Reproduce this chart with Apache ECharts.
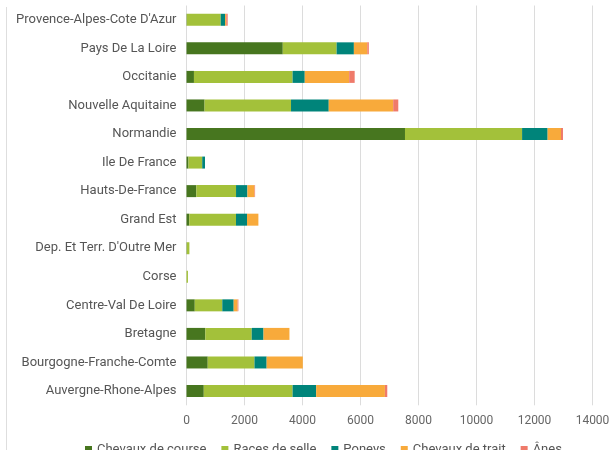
<!DOCTYPE html>
<html>
<head>
<meta charset="utf-8">
<script src="https://cdn.jsdelivr.net/npm/echarts@6/dist/echarts.min.js"></script>
<style>
html,body{margin:0;padding:0;background:#fff;}
#main{width:615px;height:450px;}
</style>
</head>
<body>
<div id="main"></div>
<script>
// Categories bottom-to-top (ECharts draws first category at the bottom)
var regions = [
  "Auvergne-Rhone-Alpes",
  "Bourgogne-Franche-Comte",
  "Bretagne",
  "Centre-Val De Loire",
  "Corse",
  "Dep. Et Terr. D'Outre Mer",
  "Grand Est",
  "Hauts-De-France",
  "Ile De France",
  "Normandie",
  "Nouvelle Aquitaine",
  "Occitanie",
  "Pays De La Loire",
  "Provence-Alpes-Cote D'Azur"
];
var seriesNames = ["Chevaux de course", "Races de selle", "Poneys", "Chevaux de trait", "Ânes"];
var chevauxCourse = [596, 732, 650, 285, 0, 10, 95, 339, 68, 7534, 623, 257, 3320, 10];
var racesSelle    = [3062, 1612, 1599, 949, 50, 90, 1612, 1369, 474, 4038, 2981, 3401, 1856, 1170];
var poneys        = [813, 420, 407, 393, 0, 0, 379, 393, 95, 881, 1301, 420, 596, 150];
var chevauxTrait  = [2371, 1247, 894, 135, 0, 0, 393, 244, 0, 461, 2222, 1531, 461, 40];
var anes          = [81, 0, 0, 27, 0, 0, 0, 20, 0, 68, 176, 190, 54, 50];
var xTicks = [0, 2000, 4000, 6000, 8000, 10000, 12000, 14000];

var colors = ["#47761f", "#a3c13a", "#00847a", "#f8aa3b", "#ef7a6a"];
var values = [chevauxCourse, racesSelle, poneys, chevauxTrait, anes];

var chart = echarts.init(document.getElementById('main'));
var series = seriesNames.map(function (n, i) {
  return {
    name: n,
    type: 'bar',
    stack: 'total',
    barWidth: 12,
    data: values[i],
    itemStyle: { color: colors[i] },
    emphasis: { disabled: true }
  };
});

chart.setOption({
  animation: false,
  color: colors,
  grid: { left: 186.5, right: 22.5, top: 5.5, bottom: 44.7, containLabel: false },
  legend: {
    data: seriesNames,
    left: 85,
    top: 443,
    padding: 0,
    icon: 'rect',
    itemWidth: 7,
    itemHeight: 7,
    itemGap: 15,
    textStyle: { fontFamily: 'Roboto', fontSize: 13, color: '#555' }
  },
  xAxis: {
    type: 'value',
    min: xTicks[0],
    max: xTicks[xTicks.length - 1],
    interval: 2000,
    axisLine: { show: false },
    axisTick: { show: false },
    splitLine: { show: true, lineStyle: { color: '#dcdcdc', width: 1 } },
    axisLabel: {
      fontFamily: 'Roboto', fontSize: 12, color: '#666', margin: 10,
      formatter: function (v) { return String(v); }
    }
  },
  yAxis: {
    type: 'category',
    data: regions,
    axisLine: { show: false },
    axisTick: { show: false },
    axisLabel: { fontFamily: 'Roboto', fontSize: 13, color: '#555', margin: 10 }
  },
  graphic: [{
    type: 'line',
    shape: { x1: 6.5, y1: 7, x2: 6.5, y2: 450 },
    style: { stroke: '#dedede', lineWidth: 1 }
  }],
  series: series
});
</script>
</body>
</html>
